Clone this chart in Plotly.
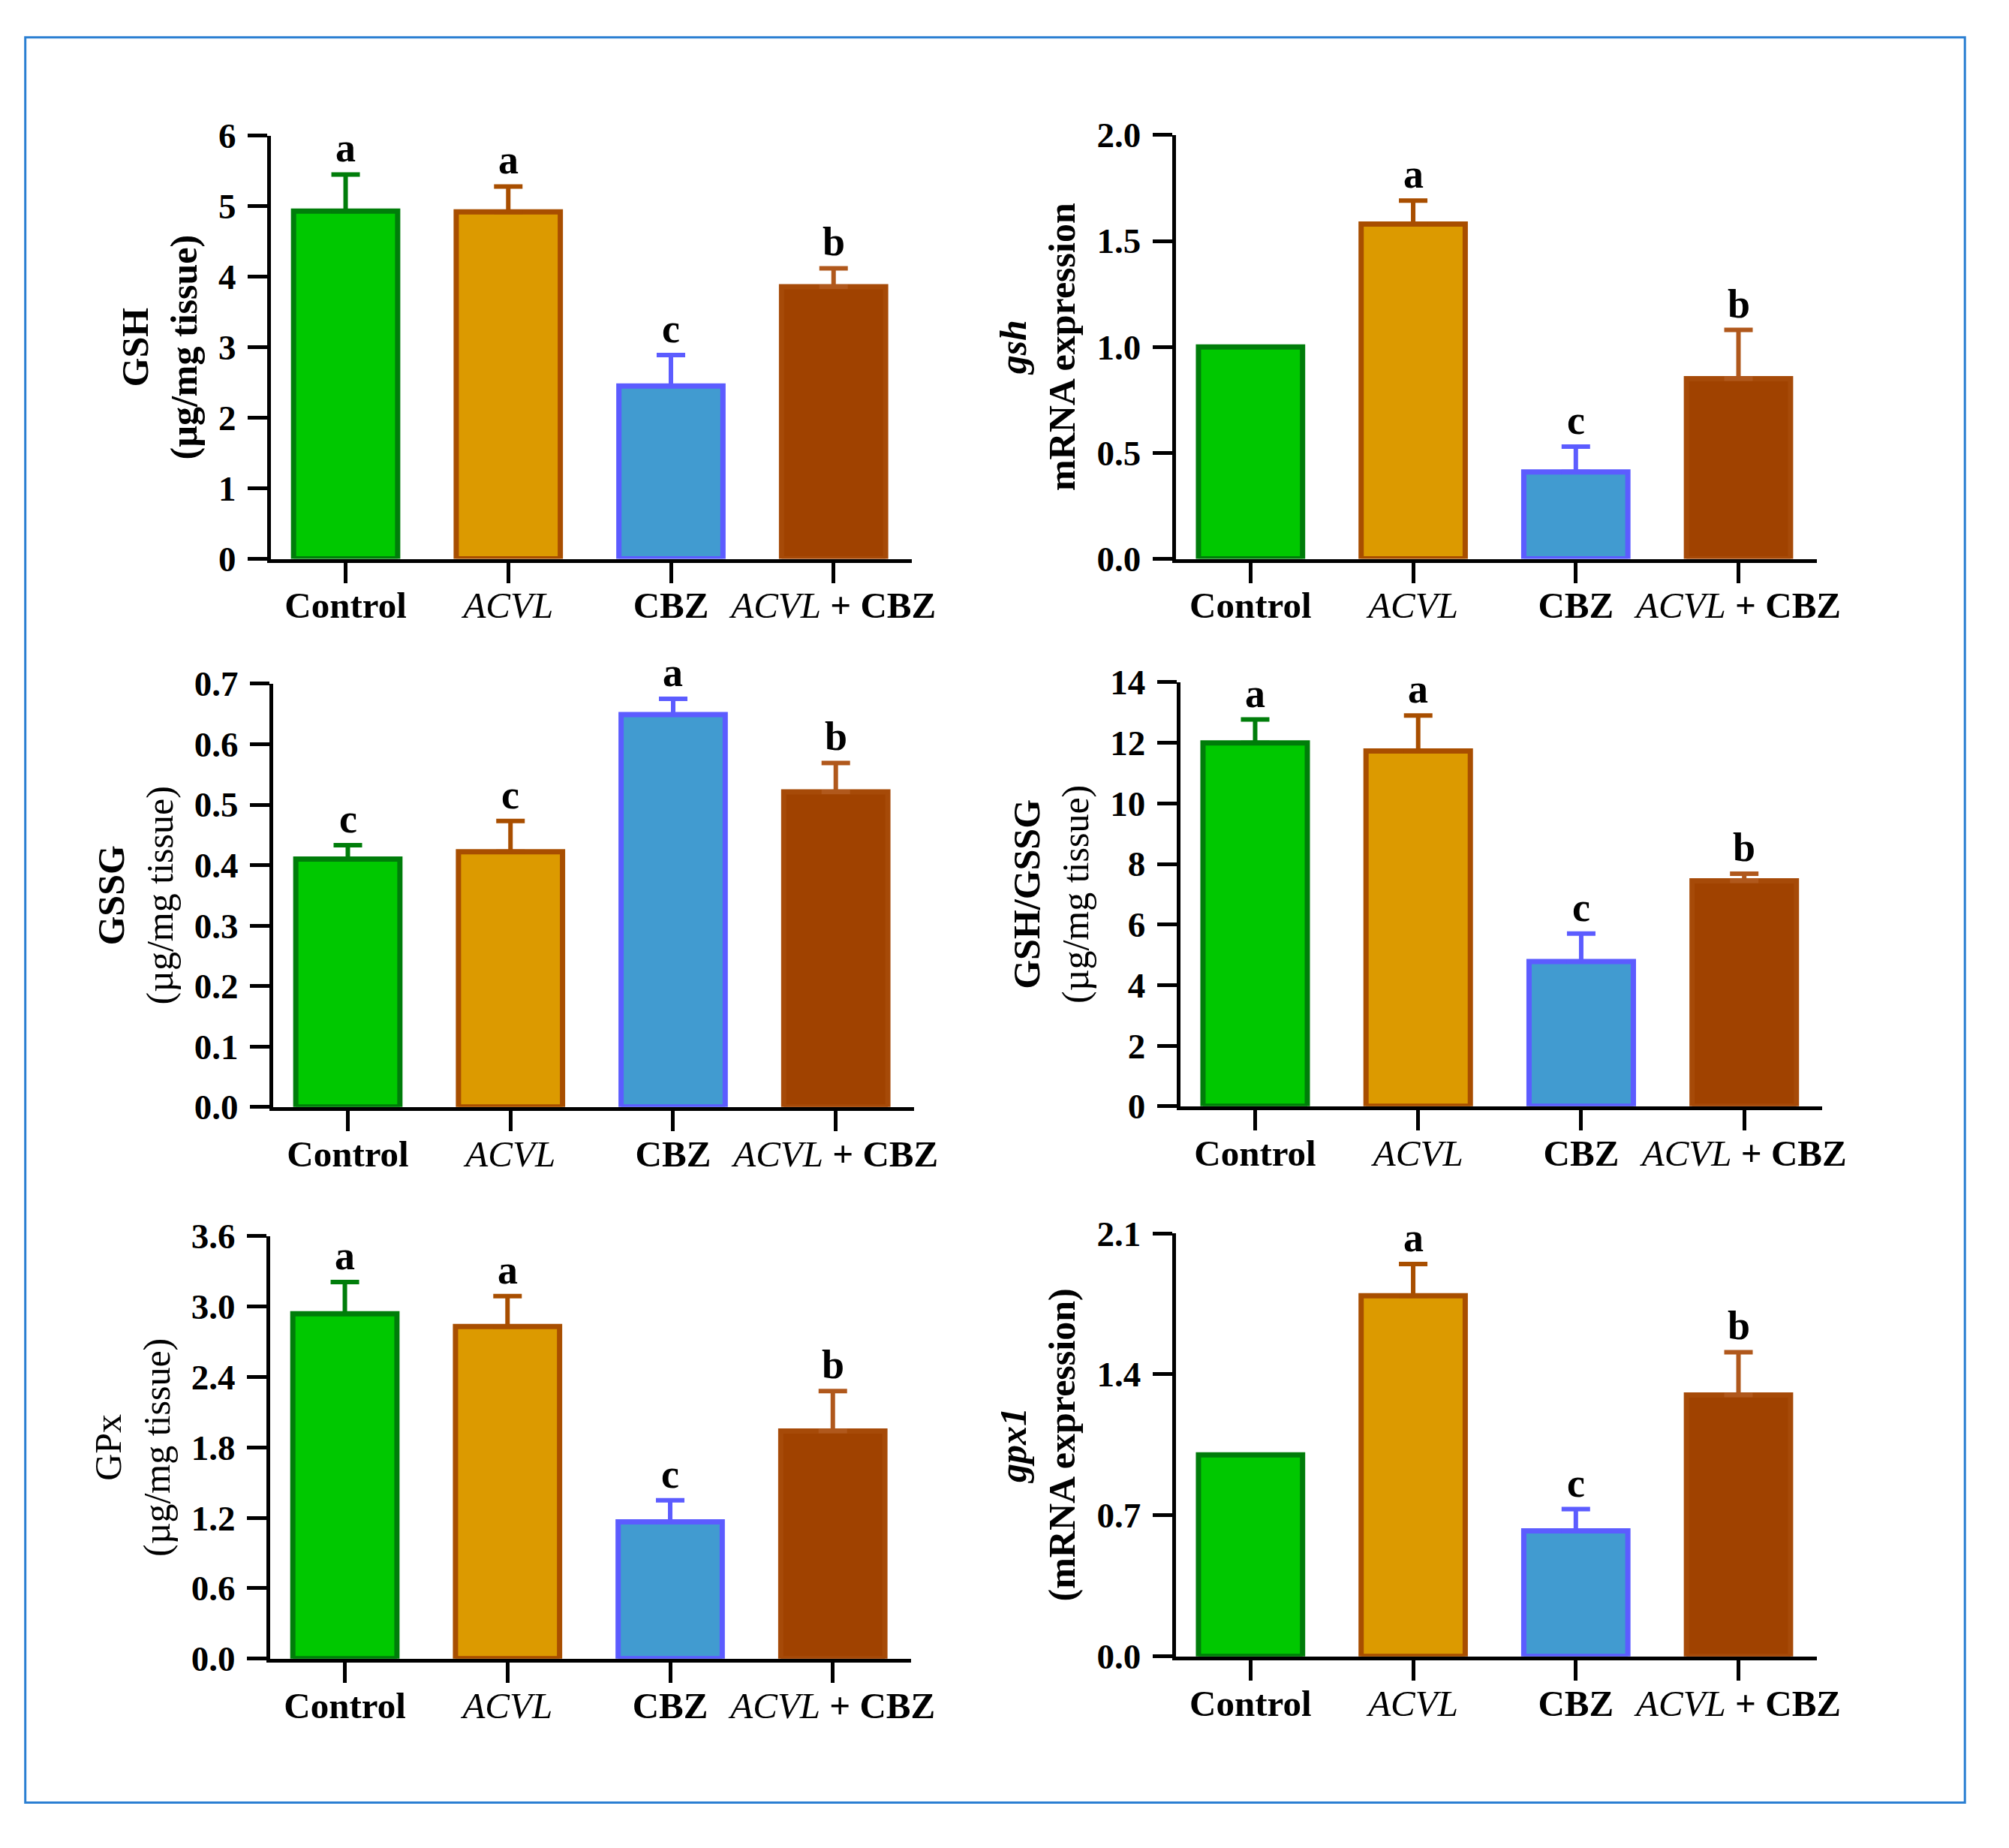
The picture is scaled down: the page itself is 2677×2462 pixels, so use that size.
import plotly.graph_objects as go

PAGE_W, PAGE_H = 2677, 2462
OFF = 8  # default body margin of the html page
W, H = PAGE_W - 2 * OFF, PAGE_H - 2 * OFF

GROUPS = ["Control", "ACVL", "CBZ", "ACVL + CBZ"]
TICK_LABELS = ["<b>Control</b>", "<i>ACVL</i>", "<b>CBZ</b>", "<i>ACVL</i><b> + CBZ</b>"]

FILL = ["#00C800", "#DC9A00", "#419BD0", "#A04200"]
EDGE = ["#007D0A", "#A84E00", "#5C5CFF", "#A64A08"]
ERRC = ["#007D0A", "#A84E00", "#5C5CFF", "#B0581C"]

gsh_vals = [4.93, 4.92, 2.45, 3.86]
gsh_err = [0.52, 0.36, 0.44, 0.26]
gsh_letters = ["a", "a", "c", "b"]

gsh_mrna_vals = [1.0, 1.58, 0.41, 0.85]
gsh_mrna_err = [0.0, 0.11, 0.12, 0.23]
gsh_mrna_letters = ["", "a", "c", "b"]

gssg_vals = [0.41, 0.422, 0.649, 0.521]
gssg_err = [0.023, 0.051, 0.026, 0.048]
gssg_letters = ["c", "c", "a", "b"]

ratio_vals = [12.0, 11.73, 4.78, 7.44]
ratio_err = [0.77, 1.17, 0.92, 0.24]
ratio_letters = ["a", "a", "c", "b"]

gpx_vals = [2.94, 2.83, 1.165, 1.94]
gpx_err = [0.27, 0.26, 0.185, 0.34]
gpx_letters = ["a", "a", "c", "b"]

gpx1_vals = [1.0, 1.79, 0.623, 1.297]
gpx1_err = [0.0, 0.157, 0.108, 0.213]
gpx1_letters = ["", "a", "c", "b"]

# (values, errors, letters, y max, tick step, tick format, y title, page pixel box x0,x1,y0,y1)
panels = [
    (gsh_vals, gsh_err, gsh_letters, 6, 1, "d",
     "<b>GSH</b><br><b>(µg/mg tissue)</b>", (365, 1229, 158, 734)),
    (gsh_mrna_vals, gsh_mrna_err, gsh_mrna_letters, 2.0, 0.5, ".1f",
     "<b><i>gsh</i></b><br><b>mRNA expression</b>", (1585, 2449, 157, 734)),
    (gssg_vals, gssg_err, gssg_letters, 0.7, 0.1, ".1f",
     "<b>GSSG</b><br>(µg/mg tissue)", (368, 1232, 904, 1480)),
    (ratio_vals, ratio_err, ratio_letters, 14, 2, "d",
     "<b>GSH/GSSG</b><br>(µg/mg tissue)", (1591, 2457, 902, 1479)),
    (gpx_vals, gpx_err, gpx_letters, 3.6, 0.6, ".1f",
     "GPx<br>(µg/mg tissue)", (364, 1228, 1656, 2231)),
    (gpx1_vals, gpx1_err, gpx1_letters, 2.1, 0.7, ".1f",
     "<b><i>gpx1</i></b><br><b>(mRNA expression)</b>", (1585, 2449, 1652, 2228)),
]

FONT = "Liberation Serif, Times New Roman, serif"


def px_x(v):
    return (v - OFF) / W


def px_y(v):
    return 1 - (v - OFF) / H


fig = go.Figure()
layout = {}

for p, (vals, errs, letters, ymax, step, fmt, ytitle, box) in enumerate(panels):
    n = "" if p == 0 else str(p + 1)
    xa, ya = "x" + n, "y" + n
    x0, x1, y0, y1 = box

    for i, g in enumerate(GROUPS):
        fig.add_trace(go.Bar(
            x=[g], y=[vals[i]], xaxis=xa, yaxis=ya,
            width=0.64,
            marker=dict(color=FILL[i], line=dict(color=EDGE[i], width=7)),
            error_y=dict(type="data", array=[errs[i]], arrayminus=[0],
                         symmetric=False, visible=errs[i] > 0,
                         color=ERRC[i], thickness=6, width=19),
            showlegend=False,
        ))
        if letters[i]:
            fig.add_annotation(
                x=g, y=vals[i] + errs[i], xref=xa, yref=ya,
                text="<b>" + letters[i] + "</b>", showarrow=False,
                yanchor="bottom", yshift=3,
                font=dict(family=FONT, size=54, color="black"),
            )

    ticks = []
    k = 0
    while k * step <= ymax + 1e-9:
        ticks.append(round(k * step, 6))
        k += 1
    if fmt == "d":
        ticktext = ["<b>%d</b>" % t for t in ticks]
    else:
        ticktext = ["<b>%.1f</b>" % t for t in ticks]

    layout["xaxis" + n] = dict(
        domain=[px_x(x0), px_x(x1)], anchor=ya,
        type="category", categoryorder="array", categoryarray=GROUPS,
        range=[-0.46, 3.48],
        tickvals=GROUPS, ticktext=TICK_LABELS,
        showline=True, linecolor="black", linewidth=5,
        ticks="outside", ticklen=27, tickwidth=5, tickcolor="black",
        ticklabelstandoff=-12,
        tickfont=dict(family=FONT, size=49, color="black"),
        showgrid=False, zeroline=False, fixedrange=True,
    )
    layout["yaxis" + n] = dict(
        domain=[px_y(y1), px_y(y0)], anchor=xa,
        range=[0, ymax],
        tickvals=ticks, ticktext=ticktext,
        showline=True, linecolor="black", linewidth=5,
        ticks="outside", ticklen=26, tickwidth=5, tickcolor="black",
        ticklabelstandoff=6,
        tickfont=dict(family=FONT, size=47, color="black"),
        title=dict(text=ytitle, standoff=14,
                   font=dict(family=FONT, size=50, color="black")),
        showgrid=False, zeroline=False, fixedrange=True,
    )

fig.update_layout(
    width=W, height=H,
    margin=dict(l=0, r=0, t=0, b=0),
    paper_bgcolor="white", plot_bgcolor="white",
    barmode="overlay",
    font=dict(family=FONT, color="black"),
    shapes=[dict(type="rect", xref="paper", yref="paper",
                 x0=px_x(34), x1=px_x(2649), y0=px_y(2427), y1=px_y(24),
                 line=dict(color="#2B7FD2", width=3), fillcolor="rgba(0,0,0,0)",
                 layer="below")],
    **layout,
)

fig.write_html("out.html")
